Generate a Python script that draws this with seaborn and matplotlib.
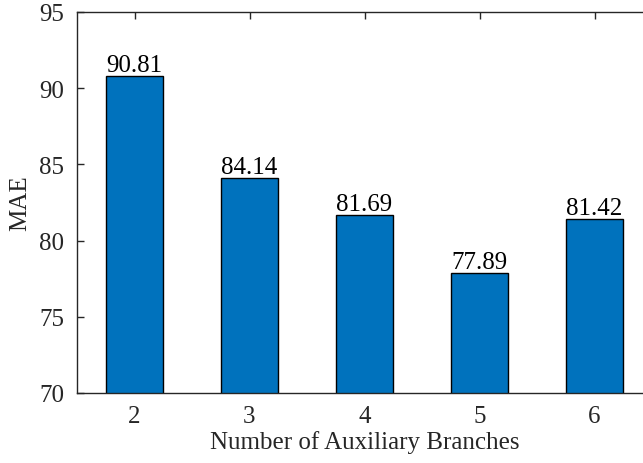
import matplotlib
matplotlib.use("Agg")
import matplotlib.pyplot as plt
import seaborn as sns
import pandas as pd

categories = ["2", "3", "4", "5", "6"]
mae_values = [90.81, 84.14, 81.69, 77.89, 81.42]
y_ticks = [70, 75, 80, 85, 90, 95]

sns.set_theme(style="white")
plt.rcParams['font.family'] = ['Liberation Serif', 'DejaVu Serif']
plt.rcParams['mathtext.fontset'] = 'stix'

df = pd.DataFrame({"branches": categories, "MAE": mae_values})

W, H = 643, 464
fig = plt.figure(figsize=(W / 100, H / 100), dpi=100)
left, right, top, bottom = 77, 652, 13, 394
ax = fig.add_axes([left / W, 1 - bottom / H, (right - left) / W, (bottom - top) / H])
ax.patch.set_visible(False)

sns.barplot(data=df, x="branches", y="MAE", color="#0072BD", saturation=1,
            width=0.5, edgecolor="black", linewidth=1.0, ax=ax)

ax.set_ylim(70, 95)
ax.set_xlim(-0.5, 4.5)
ax.set_yticks(y_ticks)
ax.set_yticklabels([str(t) for t in y_ticks])

fs = 18
for i, v in enumerate(mae_values):
    ax.text(i, v, f"{v:.2f}", ha="center", va="bottom", fontsize=fs, color="black")

ax.set_xlabel("Number of Auxiliary Branches", fontsize=fs, color="#262626", labelpad=2)
ax.set_ylabel("MAE", fontsize=fs, color="#262626", labelpad=6)

for s in ax.spines.values():
    s.set_color("#262626")
    s.set_linewidth(1.0)
ax.spines["right"].set_visible(False)
ax.tick_params(axis="both", direction="in", length=5, width=1.0, colors="#262626",
               labelsize=fs, top=True, right=False, bottom=True, left=True)
ax.tick_params(axis="x", pad=9)
ax.tick_params(axis="y", pad=9)

fig.savefig("out.png", dpi=100, facecolor="white", edgecolor="none")
